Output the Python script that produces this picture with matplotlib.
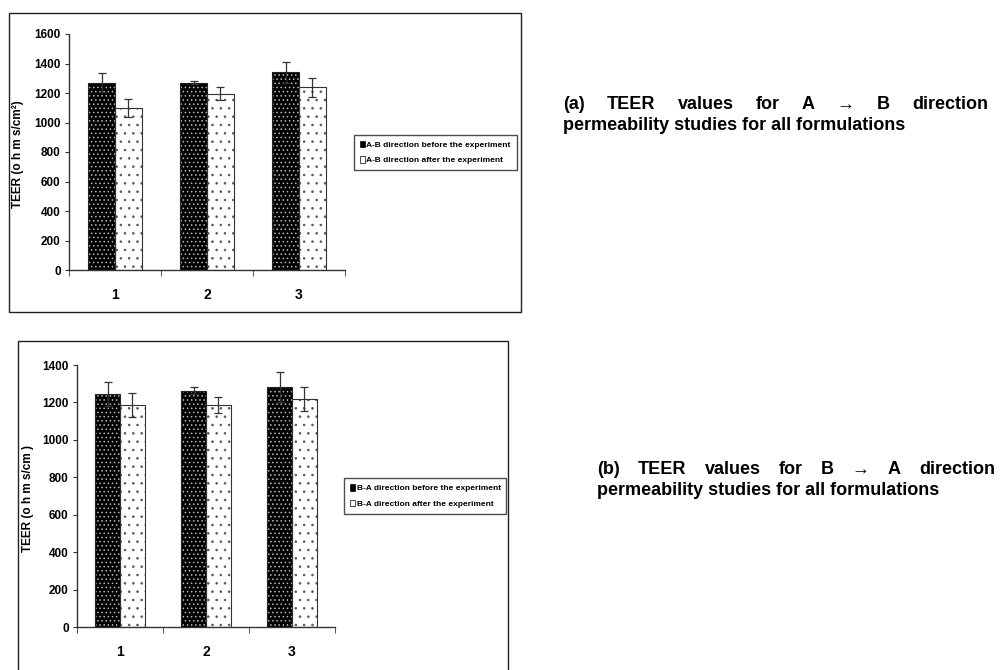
import matplotlib
matplotlib.use("Agg")
import matplotlib.pyplot as plt
from matplotlib.patches import Rectangle
import numpy as np

# ---- data -------------------------------------------------------------
formulations = ["1", "2", "3"]

ab_before = [1270, 1270, 1340]
ab_before_err = [65, 12, 70]
ab_after = [1100, 1195, 1240]
ab_after_err = [60, 45, 65]

ba_before = [1245, 1262, 1280]
ba_before_err = [63, 18, 80]
ba_after = [1185, 1185, 1220]
ba_after_err = [65, 42, 65]

ab_labels = ["A-B direction before the experiment",
             "A-B direction after the experiment"]
ba_labels = ["B-A direction before the experiment",
             "B-A direction after the experiment"]

ab_yticks = [0, 200, 400, 600, 800, 1000, 1200, 1400, 1600]
ba_yticks = [0, 200, 400, 600, 800, 1000, 1200, 1400]

ab_caption = (["(a)", "TEER", "values", "for", "A", "\u2192", "B", "direction"],
              "permeability studies for all formulations")
ba_caption = (["(b)", "TEER", "values", "for", "B", "\u2192", "A", "direction"],
              "permeability studies for all formulations")

# ---- styling ------------------------------------------------------------
W, H = 1005, 670
SANS = ["Liberation Sans", "DejaVu Sans"]
plt.rcParams["hatch.linewidth"] = 0.6

fig = plt.figure(figsize=(W / 100, H / 100), dpi=100)
fig.patch.set_facecolor("white")


def px_rect(x0, y0, x1, y1):
    """Figure-fraction rect from pixel box (top-left origin)."""
    return [x0 / W, 1 - y1 / H, (x1 - x0) / W, (y1 - y0) / H]


def draw_panel(ax, before, before_err, after, after_err, yticks, labels,
               legend_xy):
    x = np.arange(1, len(formulations) + 1)
    w = 0.29
    # dark bars: black fill with fine grey dot hatch, then black outline
    ax.bar(x - w / 2, before, w, color="black", edgecolor="#bbbbbb",
           hatch="....", linewidth=0, zorder=2)
    ax.bar(x - w / 2, before, w, fill=False, edgecolor="#222222",
           linewidth=0.8, zorder=3)
    # light bars: white fill with sparse small dots
    ax.bar(x + w / 2, after, w, color="white", edgecolor="#555555",
           hatch="..", linewidth=0, zorder=2)
    ax.bar(x + w / 2, after, w, fill=False, edgecolor="#333333",
           linewidth=0.8, zorder=3)
    ax.errorbar(x - w / 2, before, yerr=before_err, fmt="none",
                ecolor="#333333", elinewidth=0.9, capsize=3, capthick=0.9,
                zorder=4)
    ax.errorbar(x + w / 2, after, yerr=after_err, fmt="none",
                ecolor="#333333", elinewidth=0.9, capsize=3, capthick=0.9,
                zorder=4)

    ax.set_xlim(0.5, len(formulations) + 0.5)
    ax.set_ylim(0, yticks[-1])
    ax.set_yticks(yticks)
    ax.set_yticklabels([str(t) for t in yticks], family=SANS,
                       fontweight="bold", fontsize=8.5)
    ax.set_xticks(x)
    ax.set_xticklabels(formulations, family=SANS, fontweight="bold",
                       fontsize=10)
    ax.set_xticks(np.arange(0.5, len(formulations) + 1), minor=True)
    ax.tick_params(axis="x", which="major", length=0, pad=13)
    ax.tick_params(axis="x", which="minor", length=4, direction="out",
                   color="#333333")
    ax.tick_params(axis="y", length=3, direction="out", pad=3,
                   color="#333333")
    for s in ("top", "right"):
        ax.spines[s].set_visible(False)
    for s in ("left", "bottom"):
        ax.spines[s].set_color("#333333")
        ax.spines[s].set_linewidth(1.0)

    handles = [Rectangle((0, 0), 1, 1, facecolor="black", edgecolor="black",
                         linewidth=0.5),
               Rectangle((0, 0), 1, 1, facecolor="white", edgecolor="black",
                         linewidth=0.5)]
    leg = ax.legend(handles, labels, loc="center left",
                    bbox_to_anchor=legend_xy, bbox_transform=fig.transFigure,
                    prop={"family": SANS, "weight": "bold", "size": 6},
                    frameon=True, fancybox=False, edgecolor="#222222",
                    handlelength=0.6, handleheight=0.8, handletextpad=0.2,
                    labelspacing=0.9, borderpad=0.7, borderaxespad=0)
    leg.get_frame().set_linewidth(1.0)


# ---- panel (a) ----------------------------------------------------------
fig.add_artist(Rectangle((9 / W, 1 - 312 / H), 512 / W, 299 / H,
                         transform=fig.transFigure, fill=False,
                         edgecolor="#222222", linewidth=1.0))
ax1 = fig.add_axes(px_rect(69, 34, 345, 270))
draw_panel(ax1, ab_before, ab_before_err, ab_after, ab_after_err,
           ab_yticks, ab_labels, (354 / W, 1 - 152.5 / H))
fig.text(18 / W, 1 - 154 / H, "TEER (o h m s/cm\u00b2)", rotation=90,
         ha="center", va="center", family=SANS, fontweight="bold",
         fontsize=8.5)

# ---- panel (b) ----------------------------------------------------------
fig.add_artist(Rectangle((18 / W, -3 / H), 490 / W, (670 - 341 + 3) / H,
                         transform=fig.transFigure, fill=False,
                         edgecolor="#222222", linewidth=1.0))
ax2 = fig.add_axes(px_rect(77, 365, 335, 627))
draw_panel(ax2, ba_before, ba_before_err, ba_after, ba_after_err,
           ba_yticks, ba_labels, (344 / W, 1 - 496 / H))
fig.text(28 / W, 1 - 498 / H, "TEER (o h m s/cm )", rotation=90,
         ha="center", va="center", family=SANS, fontweight="bold",
         fontsize=8.5)


# ---- captions (first line justified) -------------------------------------
def caption(words, second, x0, x1, y1, y2):
    kw = dict(family=SANS, fontweight="bold", fontsize=13, va="baseline",
              ha="left")
    renderer = fig.canvas.get_renderer()
    texts = [fig.text(0, 1 - y1 / H, wd, **kw) for wd in words]
    widths = [t.get_window_extent(renderer).width for t in texts]
    gap = (x1 - x0 - sum(widths)) / (len(words) - 1)
    x = x0
    for t, wd in zip(texts, widths):
        t.set_x(x / W)
        x += wd + gap
    fig.text(x0 / W, 1 - y2 / H, second, **kw)


caption(ab_caption[0], ab_caption[1], 563, 988, 109, 130)
caption(ba_caption[0], ba_caption[1], 597, 995, 474, 495)

fig.savefig("out.png", dpi=100, facecolor="white")
